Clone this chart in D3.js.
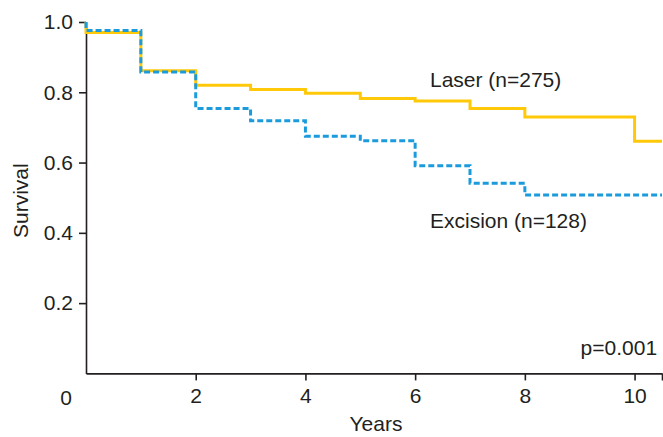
<!DOCTYPE html>
<html>
<head>
<meta charset="UTF-8">
<title>Survival</title>
<style>
  html, body { margin: 0; padding: 0; background: #fff; }
  svg { display: block; }
  text { font-family: "Liberation Sans", Arial, sans-serif; fill: #231f20; }
</style>
</head>
<body>
<svg id="chart" width="663" height="437"></svg>
<script src="https://d3js.org/d3.v7.min.js"></script>
<script>
// Kaplan-Meier steps
const laserYears = [0, 0, 1, 2, 3, 4, 5, 6, 7, 8, 10];
const laserSurv  = [1.0, 0.970, 0.861, 0.820, 0.808, 0.797, 0.782, 0.775, 0.754, 0.730, 0.661];
const excisionYears = [0, 0, 1, 2, 3, 4, 5, 6, 7, 8];
const excisionSurv  = [1.0, 0.976, 0.858, 0.754, 0.719, 0.675, 0.662, 0.591, 0.541, 0.508];

const xTicks = [2, 4, 6, 8, 10];
const yTicks = [0.2, 0.4, 0.6, 0.8, 1.0];
const xMax = 10.5;

const FS = 21;
const svg = d3.select("#chart");

const x = d3.scaleLinear().domain([0, xMax]).range([86, 662]);
const y = d3.scaleLinear().domain([0, 1]).range([373.4, 22]);

// axes
const xAxis = d3.axisBottom(x)
  .tickValues(xTicks.concat([xMax]))
  .tickFormat(d => d === xMax ? "" : d3.format("d")(d))
  .tickSize(7).tickSizeOuter(0).tickPadding(7);
const gx = svg.append("g").attr("transform", `translate(0,${y(0)})`).call(xAxis);

const yAxis = d3.axisLeft(y)
  .tickValues(yTicks)
  .tickFormat(d3.format(".1f"))
  .tickSize(7).tickSizeOuter(0).tickPadding(6);
const gy = svg.append("g").attr("transform", `translate(${x(0)},0)`).call(yAxis);

[gx, gy].forEach(g => {
  g.selectAll("path, line").attr("stroke", "#231f20").attr("stroke-width", 1.6);
  g.selectAll("text").attr("font-size", FS).attr("fill", "#231f20")
    .style("font-family", '"Liberation Sans", Arial, sans-serif');
});
gx.selectAll("text").attr("dy", "0.72em");

// origin label sits left of the corner
svg.append("text")
  .attr("x", x(0) - 20).attr("y", y(0) + 32)
  .attr("text-anchor", "middle").attr("font-size", FS).text("0");

// axis titles
svg.append("text")
  .attr("transform", `translate(28,${(y(0) + y(1)) / 2 + 3}) rotate(-90)`)
  .attr("text-anchor", "middle").attr("font-size", FS).text("Survival");
svg.append("text")
  .attr("x", (x(0) + x(xMax)) / 2 + 2).attr("y", 431)
  .attr("text-anchor", "middle").attr("font-size", FS).text("Years");

// curves
const line = d3.line()
  .x(d => x(d[0])).y(d => y(d[1]))
  .curve(d3.curveStepAfter);

function steps(years, surv) {
  const pts = years.map((t, i) => [t, surv[i]]);
  pts.push([xMax, surv[surv.length - 1]]);
  return pts;
}

svg.append("path")
  .datum(steps(laserYears, laserSurv))
  .attr("d", line)
  .attr("fill", "none")
  .attr("stroke", "#ffc90a")
  .attr("stroke-width", 3);

svg.append("path")
  .datum(steps(excisionYears, excisionSurv))
  .attr("d", line)
  .attr("fill", "none")
  .attr("stroke", "#1b9bdb")
  .attr("stroke-width", 3)
  .attr("stroke-dasharray", "6,3");

// annotations
svg.append("text").attr("x", x(6.27)).attr("y", y(0.815))
  .attr("font-size", FS).text("Laser (n=275)");
svg.append("text").attr("x", x(6.27)).attr("y", y(0.414))
  .attr("font-size", FS).text("Excision (n=128)");
svg.append("text").attr("x", x(10.41)).attr("y", y(0.052))
  .attr("text-anchor", "end").attr("font-size", FS).text("p=0.001");
</script>
</body>
</html>
